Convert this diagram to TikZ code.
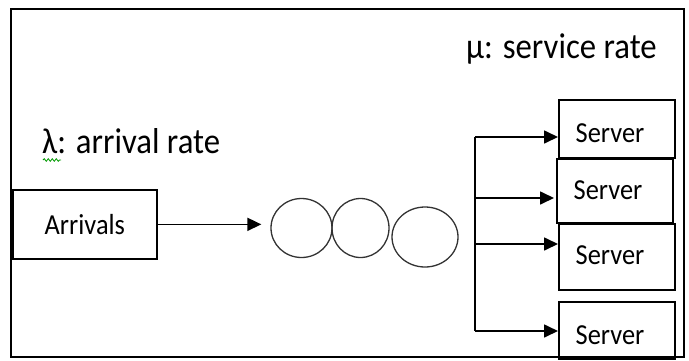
\documentclass[tikz,border=0pt]{standalone}
\usepackage{fontspec}
\setmainfont{Carlito}
\usetikzlibrary{arrows.meta,shapes.geometric,decorations.pathmorphing}
\begin{document}
\begin{tikzpicture}[x=1pt,y=1pt,
  line/.style={line width=1.7pt,black},
  arr/.style={line width=1.7pt,-{Triangle[length=14pt,width=13pt]}},
  box/.style={draw,line width=1.7pt,inner sep=0pt,anchor=north west},
  bubble/.style={draw,ellipse,line width=1.3pt,draw=black!80,inner sep=0pt},
  lbl/.style={font=\fontsize{36}{40}\selectfont,inner sep=0pt,anchor=base west},
  btxt/.style={font=\fontsize{29}{33}\selectfont}]
\useasboundingbox (0,0) rectangle (689,-360);
\draw[line] (11,-9) rectangle (684,-357);
\node[lbl,xscale=0.91] (mu) at (466,-58) {μ: service rate};
\node[lbl,xscale=0.91] (lam) at (42,-153) {λ: arrival rate};
\draw[green!60!black,line width=0.8pt,decorate,decoration={snake,amplitude=1.3pt,segment length=4pt}] (43,-160) -- (61,-160);
\node[box,minimum width=144pt,minimum height=69pt] (arrv) at (12,-189) {};
\node[btxt,xscale=0.91] at (arrv.center) {Arrivals};
\node[bubble,minimum width=61pt,minimum height=59pt] (c1) at (301.5,-228) {};
\node[bubble,minimum width=57pt,minimum height=59pt] (c2) at (360.5,-228) {};
\node[bubble,minimum width=66pt,minimum height=60pt] (c3) at (425,-237) {};
\draw[arr,shorten >=9pt] (arrv.east) -- (arrv.east -| c1.west);
\node[box,minimum width=116pt,minimum height=58pt] (s1) at (558,-99) {};
\node[box,minimum width=116pt,minimum height=64pt] (s2) at (556,-158) {};
\node[box,minimum width=116pt,minimum height=66pt] (s3) at (558,-223) {};
\node[box,minimum width=116pt,minimum height=57pt] (s4) at (558,-301) {};
\node[btxt,xscale=0.91] at (610,-133) {Server};
\node[btxt,xscale=0.91] at (608,-190) {Server};
\node[btxt,xscale=0.91] at (610,-255) {Server};
\node[btxt,xscale=0.91] at (610,-335) {Server};
\coordinate (b1) at (475,-137);
\coordinate (b2) at (475,-198);
\coordinate (b3) at (475,-244);
\coordinate (b4) at (475,-331);
\draw[line] (b1) -- (b4);
\draw[arr] (b1) -- (b1 -| s1.west);
\draw[arr,shorten >=2pt] (b2) -- (b2 -| s2.west);
\draw[arr] (b3) -- (b3 -| s3.west);
\draw[arr] (b4) -- (b4 -| s4.west);
\end{tikzpicture}
\end{document}
